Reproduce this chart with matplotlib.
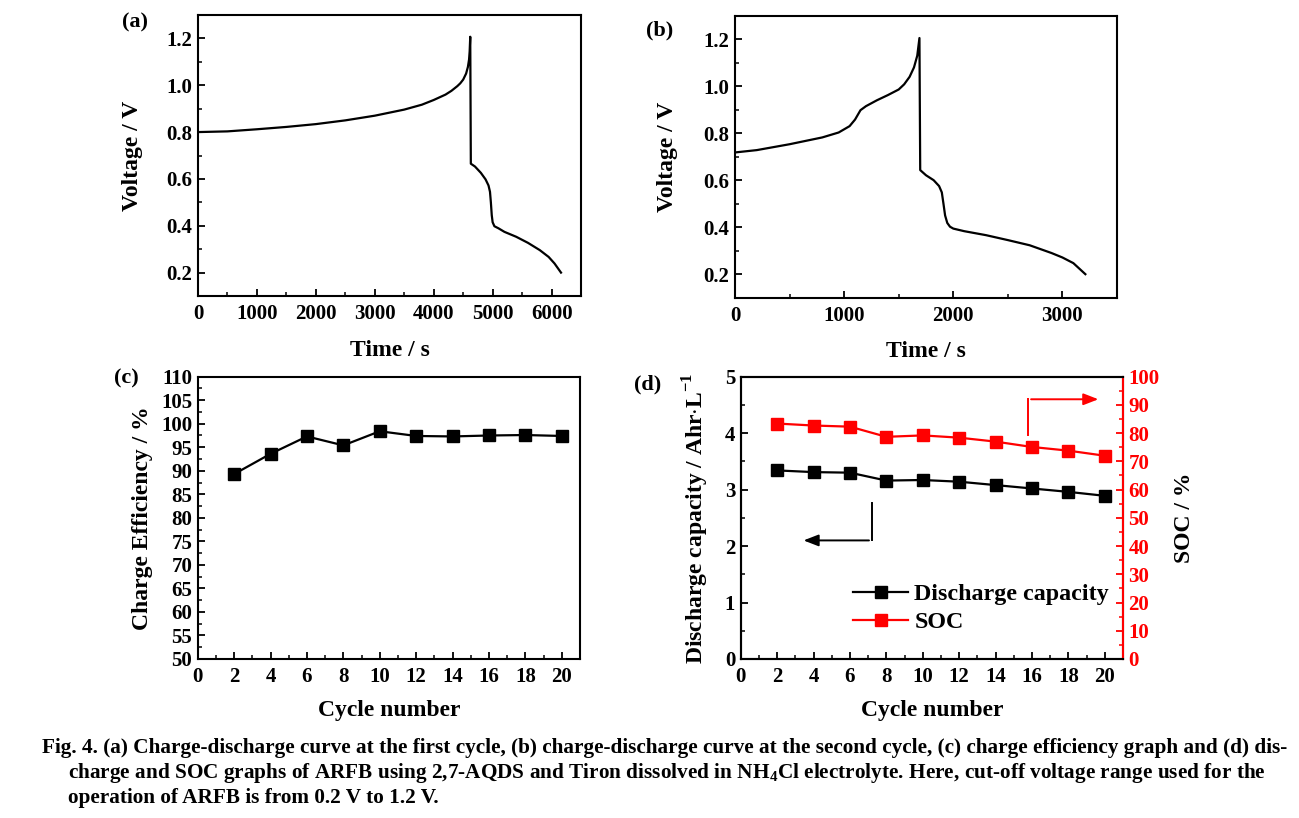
"""Charge-discharge curves, charge efficiency and discharge capacity / SOC of the ARFB."""

import matplotlib

matplotlib.use("Agg")
import matplotlib.pyplot as plt
from matplotlib.ticker import FormatStrFormatter, MultipleLocator

# (a) first cycle
time_a = [0, 500, 1000, 1500, 2000, 2500, 3000, 3500, 3800, 4000, 4200, 4300, 4400,
          4450, 4500, 4550, 4580, 4600, 4610, 4620, 4630, 4700, 4800, 4880, 4930,
          4955, 4970, 4985, 5000, 5030, 5100, 5200, 5400, 5600, 5800, 5950, 6050, 6160]
volt_a = [0.800, 0.803, 0.812, 0.822, 0.834, 0.850, 0.870, 0.896, 0.917, 0.937, 0.960,
          0.976, 0.996, 1.008, 1.024, 1.050, 1.078, 1.110, 1.145, 1.207, 0.665, 0.653,
          0.626, 0.598, 0.572, 0.545, 0.500, 0.445, 0.415, 0.398, 0.389, 0.374, 0.353,
          0.327, 0.296, 0.267, 0.239, 0.200]

# (b) second cycle
time_b = [0, 200, 500, 800, 950, 1050, 1100, 1150, 1200, 1300, 1400, 1500, 1550,
          1600, 1640, 1670, 1690, 1697, 1750, 1820, 1870, 1895, 1910, 1925, 1945,
          1970, 2000, 2100, 2300, 2500, 2700, 2900, 3000, 3100, 3210]
volt_b = [0.718, 0.728, 0.753, 0.782, 0.803, 0.830, 0.858, 0.898, 0.915, 0.940, 0.962,
          0.986, 1.008, 1.040, 1.080, 1.130, 1.205, 0.643, 0.621, 0.600, 0.575, 0.548,
          0.500, 0.450, 0.418, 0.402, 0.394, 0.383, 0.366, 0.345, 0.323, 0.290, 0.271,
          0.247, 0.200]

# (c), (d) per-cycle values
cycles = [2, 4, 6, 8, 10, 12, 14, 16, 18, 20]
charge_eff = [89.3, 93.6, 97.3, 95.4, 98.4, 97.4, 97.3, 97.5, 97.6, 97.4]
discharge_cap = [3.34, 3.31, 3.30, 3.16, 3.17, 3.14, 3.08, 3.02, 2.96, 2.89]
soc = [83.4, 82.7, 82.3, 78.7, 79.2, 78.4, 77.0, 75.1, 73.8, 72.0]

CAPTION = [
    "Fig. 4. (a) Charge-discharge curve at the first cycle, (b) charge-discharge curve at the second cycle, (c) charge efficiency graph and (d) dis-",
    "charge and SOC graphs of ARFB using 2,7-AQDS and Tiron dissolved in NH$_\\mathbf{4}$Cl electrolyte. Here, cut-off voltage range used for the",
    "operation of ARFB is from 0.2 V to 1.2 V.",
]

plt.rcParams.update(
    {
        "font.family": "Liberation Serif",
        "font.weight": "bold",
        "mathtext.fontset": "custom",
        "mathtext.rm": "Liberation Serif:bold",
        "mathtext.bf": "Liberation Serif:bold",
        "axes.linewidth": 1.5,
        "xtick.direction": "in",
        "ytick.direction": "in",
        "xtick.major.width": 1.3,
        "ytick.major.width": 1.3,
        "xtick.minor.width": 1.1,
        "ytick.minor.width": 1.1,
        "xtick.major.size": 5,
        "ytick.major.size": 5,
        "xtick.minor.size": 3,
        "ytick.minor.size": 3,
        "xtick.major.pad": 6,
        "ytick.major.pad": 4,
        "xtick.labelsize": 15,
        "ytick.labelsize": 15,
    }
)

LABEL_FS = 17
ARROW = "-|>,head_length=0.9,head_width=0.35"


def _bold_ticks(ax):
    for lab in ax.get_xticklabels() + ax.get_yticklabels():
        lab.set_fontweight("bold")


fig = plt.figure(figsize=(12.99, 8.18), dpi=100)

# (a)
ax = fig.add_axes([0.1524, 0.6381, 0.2949, 0.3436])
ax.plot(time_a, volt_a, color="black", linewidth=1.6)
ax.set_xlim(0, 6500)
ax.set_ylim(0.1, 1.3)
ax.set_xticks([0, 1000, 2000, 3000, 4000, 5000, 6000])
ax.set_yticks([0.2, 0.4, 0.6, 0.8, 1.0, 1.2])
ax.yaxis.set_major_formatter(FormatStrFormatter("%.1f"))
ax.xaxis.set_minor_locator(MultipleLocator(500))
ax.yaxis.set_minor_locator(MultipleLocator(0.1))
ax.set_xlabel("Time / s", fontsize=LABEL_FS, fontweight="bold", labelpad=11)
ax.set_ylabel("Voltage / V", fontsize=LABEL_FS, fontweight="bold", labelpad=17)
_bold_ticks(ax)
fig.text(122 / 1299, 1 - 22 / 818, "(a)", fontsize=16, fontweight="bold", va="center")

# (b)
ax = fig.add_axes([0.5658, 0.6361, 0.2941, 0.3447])
ax.plot(time_b, volt_b, color="black", linewidth=1.6)
ax.set_xlim(0, 3500)
ax.set_ylim(0.1, 1.3)
ax.set_xticks([0, 1000, 2000, 3000])
ax.set_yticks([0.2, 0.4, 0.6, 0.8, 1.0, 1.2])
ax.yaxis.set_major_formatter(FormatStrFormatter("%.1f"))
ax.xaxis.set_minor_locator(MultipleLocator(500))
ax.yaxis.set_minor_locator(MultipleLocator(0.1))
ax.set_xlabel("Time / s", fontsize=LABEL_FS, fontweight="bold", labelpad=11)
ax.set_ylabel("Voltage / V", fontsize=LABEL_FS, fontweight="bold", labelpad=18)
_bold_ticks(ax)
fig.text(646 / 1299, 1 - 30 / 818, "(b)", fontsize=16, fontweight="bold", va="center")

# (c)
ax = fig.add_axes([0.1522, 0.1944, 0.2943, 0.3451])
ax.plot(cycles, charge_eff, color="black", linewidth=1.6, marker="s", markersize=8)
ax.set_xlim(0, 21)
ax.set_ylim(50, 110)
ax.set_xticks(range(0, 21, 2))
ax.set_yticks(range(50, 111, 5))
ax.xaxis.set_minor_locator(MultipleLocator(1))
ax.yaxis.set_minor_locator(MultipleLocator(2.5))
ax.set_xlabel("Cycle number", fontsize=LABEL_FS, fontweight="bold", labelpad=9)
ax.set_ylabel("Charge Efficiency / %", fontsize=LABEL_FS, fontweight="bold", labelpad=6)
_bold_ticks(ax)
fig.text(114 / 1299, 1 - 378 / 818, "(c)", fontsize=16, fontweight="bold", va="center")

# (d)
ax = fig.add_axes([0.5702, 0.1944, 0.2943, 0.3451])
ax2 = ax.twinx()
l1, = ax.plot(cycles, discharge_cap, color="black", linewidth=1.6, marker="s",
              markersize=8, label="Discharge capacity")
l2, = ax2.plot(cycles, soc, color="red", linewidth=1.6, marker="s", markersize=8,
               label="SOC")
ax.set_xlim(0, 21)
ax.set_ylim(0, 5)
ax2.set_ylim(0, 100)
ax.set_xticks(range(0, 21, 2))
ax.set_yticks(range(0, 6))
ax2.set_yticks(range(0, 101, 10))
ax.xaxis.set_minor_locator(MultipleLocator(1))
ax.yaxis.set_minor_locator(MultipleLocator(0.5))
ax2.yaxis.set_minor_locator(MultipleLocator(5))
ax2.spines["right"].set_color("red")
ax2.tick_params(axis="y", which="both", colors="red")
ax.set_xlabel("Cycle number", fontsize=LABEL_FS, fontweight="bold", labelpad=9)
ax.set_ylabel("Discharge capacity / Ahr$\\cdot$L$^{\\mathbf{-1}}$", fontsize=LABEL_FS,
              fontweight="bold", labelpad=10)
ax2.set_ylabel("SOC / %", fontsize=LABEL_FS, fontweight="bold", labelpad=10)
_bold_ticks(ax)
_bold_ticks(ax2)
ax.annotate("", xy=(3.3, 2.10), xytext=(7.2, 2.10),
            arrowprops=dict(arrowstyle=ARROW, color="black", linewidth=1.4))
ax.plot([7.2, 7.2], [2.10, 2.76], color="black", linewidth=1.4)
ax2.annotate("", xy=(19.8, 92), xytext=(15.8, 92),
             arrowprops=dict(arrowstyle=ARROW, color="red", linewidth=1.4))
ax2.plot([15.8, 15.8], [79.3, 92], color="red", linewidth=1.4)
ax.legend([l1, l2], ["Discharge capacity", "SOC"], frameon=False, fontsize=17.3,
          loc="center left", bbox_to_anchor=(0.294, 0.18), borderpad=0,
          borderaxespad=0, handlelength=2.3, handletextpad=0.25, labelspacing=0.25)
fig.text(634 / 1299, 1 - 384 / 818, "(d)", fontsize=16, fontweight="bold", va="center")

# caption
for i, line in enumerate(CAPTION):
    x0 = 42 if i == 0 else 68
    fig.text(x0 / 1299, 1 - (748 + 25 * i) / 818, line, fontsize=15.3,
             fontweight="bold", va="center")

fig.savefig("out.png", dpi=100)
